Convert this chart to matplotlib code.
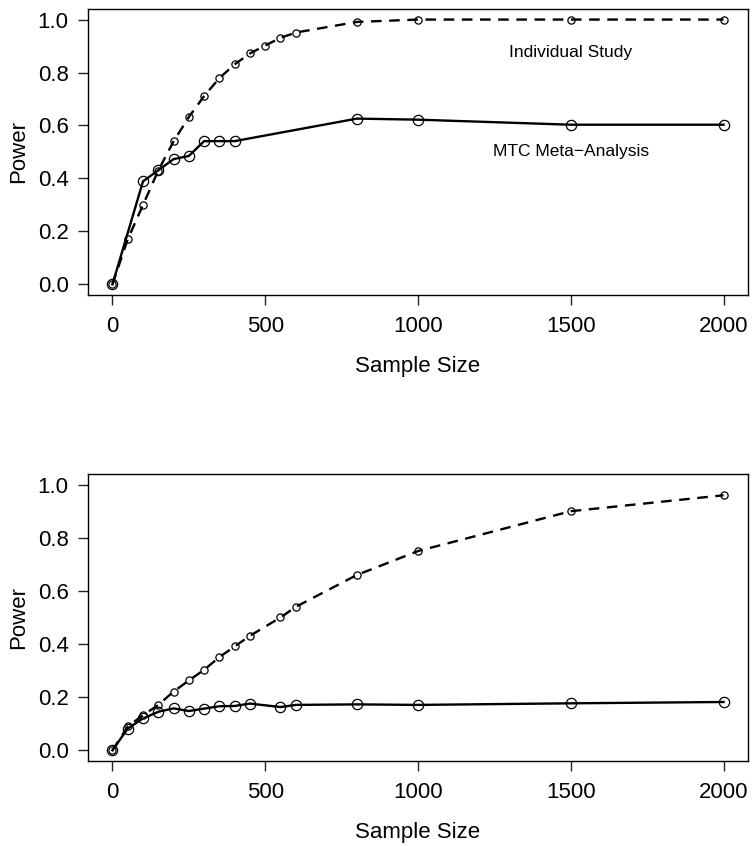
import matplotlib
matplotlib.use("Agg")
import matplotlib.pyplot as plt

plt.rcParams.update({
    'font.family': ['Liberation Sans', 'DejaVu Sans'],
    'font.size': 16,
    'axes.linewidth': 1.0,
    'xtick.major.width': 1.0,
    'ytick.major.width': 1.0,
    'xtick.major.size': 7,
    'ytick.major.size': 7,
    'xtick.labelsize': 16,
    'ytick.labelsize': 16,
})

# ── DATA ────────────────────────────────────────────────────────────────────
# Top panel
top_ind_n = [0, 50, 100, 150, 200, 250, 300, 350, 400, 450, 500, 550, 600,
             800, 1000, 1500, 2000]
top_ind_p = [0.0, 0.17, 0.30, 0.43, 0.54, 0.632, 0.711, 0.779, 0.831, 0.872,
             0.902, 0.931, 0.951, 0.991, 1.0, 1.0, 1.0]
top_mtc_n = [0, 100, 150, 200, 250, 300, 350, 400, 800, 1000, 1500, 2000]
top_mtc_p = [0.0, 0.389, 0.431, 0.473, 0.485, 0.541, 0.541, 0.541, 0.626,
             0.622, 0.603, 0.603]

# Bottom panel
bot_ind_n = [0, 50, 100, 150, 200, 250, 300, 350, 400, 450, 550, 600, 800,
             1000, 1500, 2000]
bot_ind_p = [0.0, 0.09, 0.132, 0.171, 0.221, 0.263, 0.303, 0.351, 0.391,
             0.431, 0.50, 0.54, 0.66, 0.75, 0.90, 0.96]
bot_mtc_n = [0, 50, 100, 150, 200, 250, 300, 350, 400, 450, 550, 600, 800,
             1000, 1500, 2000]
bot_mtc_p = [0.0, 0.082, 0.12, 0.145, 0.158, 0.148, 0.157, 0.166, 0.167,
             0.176, 0.163, 0.171, 0.173, 0.171, 0.177, 0.182]

x_ticks = [0, 500, 1000, 1500, 2000]
y_ticks = [0.0, 0.2, 0.4, 0.6, 0.8, 1.0]

fig = plt.figure(figsize=(7.56, 8.46), dpi=100)
ax_top = fig.add_axes([0.1164, 0.6513, 0.8730, 0.3381])
ax_bot = fig.add_axes([0.1164, 0.1005, 0.8730, 0.3392])


def draw_panel(ax, ind_n, ind_p, mtc_n, mtc_p):
    ax.plot(ind_n, ind_p, color='black', linewidth=1.7,
            linestyle=(0, (4.5, 3.2)), marker='o', markersize=5.2,
            markerfacecolor='none', markeredgecolor='black',
            markeredgewidth=0.9, zorder=2)
    ax.plot(mtc_n, mtc_p, color='black', linewidth=1.7,
            linestyle='-', marker='o', markersize=7.4,
            markerfacecolor='none', markeredgecolor='black',
            markeredgewidth=0.9, zorder=3)
    ax.set_xlim(-80, 2080)
    ax.set_ylim(-0.04, 1.04)
    ax.set_xticks(x_ticks)
    ax.set_xticklabels([str(t) for t in x_ticks])
    ax.set_yticks(y_ticks)
    ax.set_yticklabels([f'{t:.1f}' for t in y_ticks])
    ax.tick_params(axis='x', direction='out', pad=8, colors='#222222',
                   labelcolor='black')
    ax.tick_params(axis='y', direction='out', pad=7, colors='#222222',
                   labelcolor='black')
    ax.set_xlabel('Sample Size', fontsize=16, labelpad=14)
    ax.set_ylabel('Power', fontsize=16, labelpad=6)


draw_panel(ax_top, top_ind_n, top_ind_p, top_mtc_n, top_mtc_p)
draw_panel(ax_bot, bot_ind_n, bot_ind_p, bot_mtc_n, bot_mtc_p)

ax_top.text(1500, 0.876, 'Individual Study', ha='center', va='center',
            fontsize=12.5)
ax_top.text(1500, 0.50, 'MTC Meta\u2212Analysis', ha='center', va='center',
            fontsize=12.5)

fig.savefig('out.png', dpi=100, facecolor='white')
